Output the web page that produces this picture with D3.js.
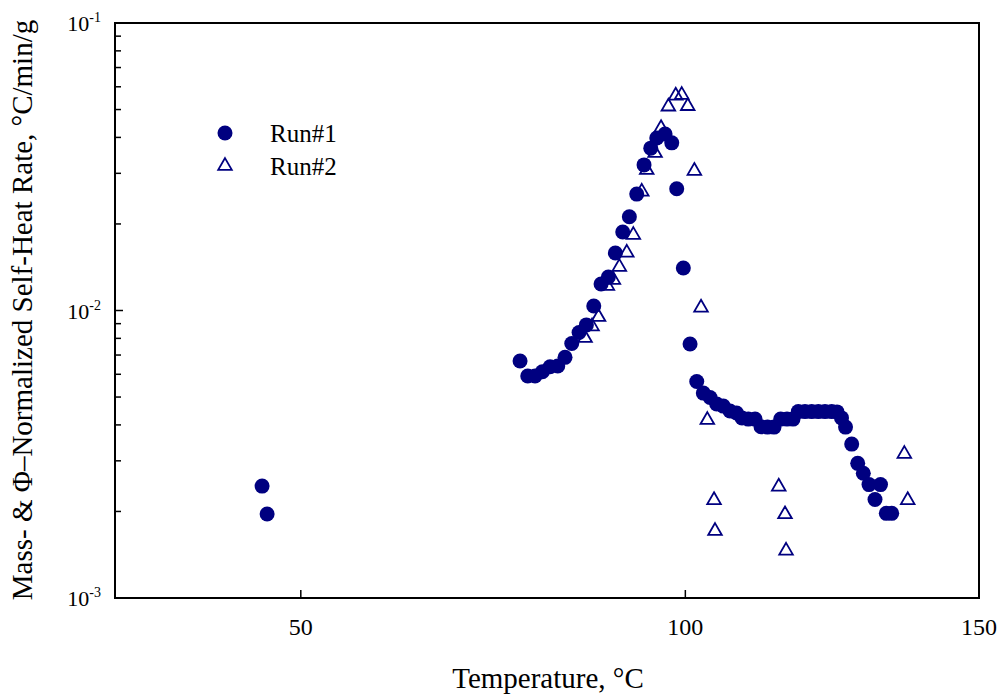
<!DOCTYPE html>
<html>
<head>
<meta charset="utf-8">
<script src="https://cdn.jsdelivr.net/npm/d3@7"></script>
<style>
  html, body { margin: 0; padding: 0; background: #fff; }
  svg { display: block; font-family: "Liberation Serif", "Times New Roman", serif; }
</style>
</head>
<body>
<svg id="chart" width="1001" height="695"></svg>
<script>
// Run #1: temperature (°C) and normalized self-heat rate (°C/min/g)
const run1Temp = [45.7, 46.25, 76.73, 77.75, 78.72, 79.70, 80.74, 81.78, 82.77, 83.69,
  84.70, 85.71, 86.74, 87.76, 88.79, 89.78, 90.83, 91.78, 92.84, 93.90,
  94.88, 95.76, 96.98, 97.97, 98.71, 99.70, 100.71, 101.72, 102.72, 103.75,
  104.77, 105.79, 106.83, 107.85, 108.71, 109.70, 110.77, 111.72, 112.76, 113.81,
  114.89, 115.92, 116.90, 117.77, 118.88, 119.99, 121.10, 122.22, 123.35, 124.25,
  125.02, 125.71, 126.77, 127.81, 128.78, 129.78, 130.83, 131.80, 132.83, 133.79];
const run1Rate = [2.45e-3, 1.96e-3, 6.67e-3, 5.92e-3, 5.92e-3, 6.12e-3, 6.37e-3, 6.41e-3, 6.87e-3, 7.68e-3,
  8.38e-3, 8.91e-3, 1.037e-2, 1.237e-2, 1.308e-2, 1.585e-2, 1.875e-2, 2.12e-2, 2.54e-2, 3.21e-2,
  3.67e-2, 3.98e-2, 4.11e-2, 3.83e-2, 2.65e-2, 1.405e-2, 7.65e-3, 5.66e-3, 5.16e-3, 4.98e-3,
  4.73e-3, 4.65e-3, 4.47e-3, 4.40e-3, 4.23e-3, 4.19e-3, 4.19e-3, 3.94e-3, 3.93e-3, 3.93e-3,
  4.19e-3, 4.19e-3, 4.19e-3, 4.45e-3, 4.45e-3, 4.45e-3, 4.45e-3, 4.45e-3, 4.45e-3, 4.44e-3,
  4.23e-3, 3.93e-3, 3.43e-3, 2.94e-3, 2.715e-3, 2.48e-3, 2.20e-3, 2.48e-3, 1.97e-3, 1.97e-3];

// Run #2
const run2Temp = [85.53, 86.50, 87.41, 88.65, 89.50, 90.35, 91.41, 92.35, 93.57, 94.29,
  95.51, 96.39, 97.47, 98.56, 99.46, 100.36, 101.36, 102.37, 103.33, 104.36,
  104.51, 114.57, 115.59, 115.76, 136.06, 136.67];
const run2Rate = [8.02e-3, 8.80e-3, 9.49e-3, 1.217e-2, 1.277e-2, 1.417e-2, 1.589e-2, 1.831e-2, 2.59e-2, 3.08e-2,
  3.53e-2, 4.31e-2, 5.12e-2, 5.59e-2, 5.62e-2, 5.14e-2, 3.06e-2, 1.023e-2, 4.16e-3, 2.19e-3,
  1.71e-3, 2.44e-3, 1.955e-3, 1.46e-3, 3.17e-3, 2.19e-3];

const seriesNames = ["Run#1", "Run#2"];
const xTickValues = [50, 100, 150];
const yTickExponents = [-3, -2, -1];
const tempRange = [30.35, 150];
const rateRange = [1e-3, 1e-1];

const navy = "#000080";
const margin = { left: 115, right: 979, top: 23, bottom: 598 };

const svg = d3.select("#chart");

// Temperature axis is laid out on an inverse absolute temperature (Arrhenius) basis
const inv = t => -1000 / (t + 273.15);
const xInv = d3.scaleLinear().domain(tempRange.map(inv)).range([margin.left, margin.right]);
const x = t => xInv(inv(t));
const y = d3.scaleLog().domain(rateRange).range([margin.bottom, margin.top]);

// Frame
svg.append("rect")
  .attr("x", margin.left).attr("y", margin.top)
  .attr("width", margin.right - margin.left).attr("height", margin.bottom - margin.top)
  .attr("fill", "none").attr("stroke", "#000").attr("stroke-width", 2);

// Y ticks (inward): majors at decades, minors at 2..9
const yMinor = [];
for (let e = -3; e < -1; e++) for (let m = 2; m <= 9; m++) yMinor.push(m * Math.pow(10, e));
svg.append("g").selectAll("line").data(yMinor).join("line")
  .attr("x1", margin.left).attr("x2", margin.left + 6)
  .attr("y1", d => y(d)).attr("y2", d => y(d))
  .attr("stroke", "#000").attr("stroke-width", 1.5);
svg.append("g").selectAll("line").data(yTickExponents).join("line")
  .attr("x1", margin.left).attr("x2", margin.left + 8)
  .attr("y1", d => y(Math.pow(10, d))).attr("y2", d => y(Math.pow(10, d)))
  .attr("stroke", "#000").attr("stroke-width", 1.5);

// Y tick labels 10^n
const yLab = svg.append("g").selectAll("text").data(yTickExponents).join("text")
  .attr("x", 101).attr("y", d => y(Math.pow(10, d)) + 8)
  .attr("text-anchor", "end").attr("font-size", 22).attr("fill", "#000");
yLab.append("tspan").text("10");
yLab.append("tspan").attr("font-size", 14).attr("dy", -9).text(d => d);

// X ticks (inward) and labels
svg.append("g").selectAll("line").data(xTickValues).join("line")
  .attr("x1", d => x(d)).attr("x2", d => x(d))
  .attr("y1", margin.bottom).attr("y2", margin.bottom - 8)
  .attr("stroke", "#000").attr("stroke-width", 1.5);
svg.append("g").selectAll("text").data(xTickValues).join("text")
  .attr("x", d => x(d)).attr("y", 635)
  .attr("text-anchor", "middle").attr("font-size", 24).attr("fill", "#000")
  .text(d => d);

// Axis titles
svg.append("text")
  .attr("x", 548).attr("y", 688)
  .attr("text-anchor", "middle").attr("font-size", 29).attr("fill", "#000")
  .text("Temperature, \u00B0C");
svg.append("text")
  .attr("transform", "translate(32,310) rotate(-90)")
  .attr("text-anchor", "middle").attr("font-size", 29).attr("fill", "#000")
  .text("Mass- & \u03A6\u2013Normalized Self-Heat Rate, \u00B0C/min/g");

// Markers
const tri = d3.symbol().type(d3.symbolTriangle).size(80);
const run2 = run2Temp.map((t, i) => ({ t, r: run2Rate[i] }));
const run1 = run1Temp.map((t, i) => ({ t, r: run1Rate[i] }));

svg.append("g").selectAll("path").data(run2).join("path")
  .attr("d", tri)
  .attr("transform", d => `translate(${x(d.t)},${y(d.r)})`)
  .attr("fill", "none").attr("stroke", navy).attr("stroke-width", 1.8);

svg.append("g").selectAll("circle").data(run1).join("circle")
  .attr("cx", d => x(d.t)).attr("cy", d => y(d.r)).attr("r", 7.5)
  .attr("fill", navy);

// Legend
const legend = svg.append("g");
legend.append("circle").attr("cx", 225).attr("cy", 133).attr("r", 7.5).attr("fill", navy);
legend.append("path").attr("d", tri).attr("transform", "translate(225,166)")
  .attr("fill", "none").attr("stroke", navy).attr("stroke-width", 1.8);
legend.selectAll("text").data(seriesNames).join("text")
  .attr("x", 270).attr("y", (d, i) => 142 + i * 33)
  .attr("font-size", 25).attr("fill", "#000")
  .text(d => d);
</script>
</body>
</html>
